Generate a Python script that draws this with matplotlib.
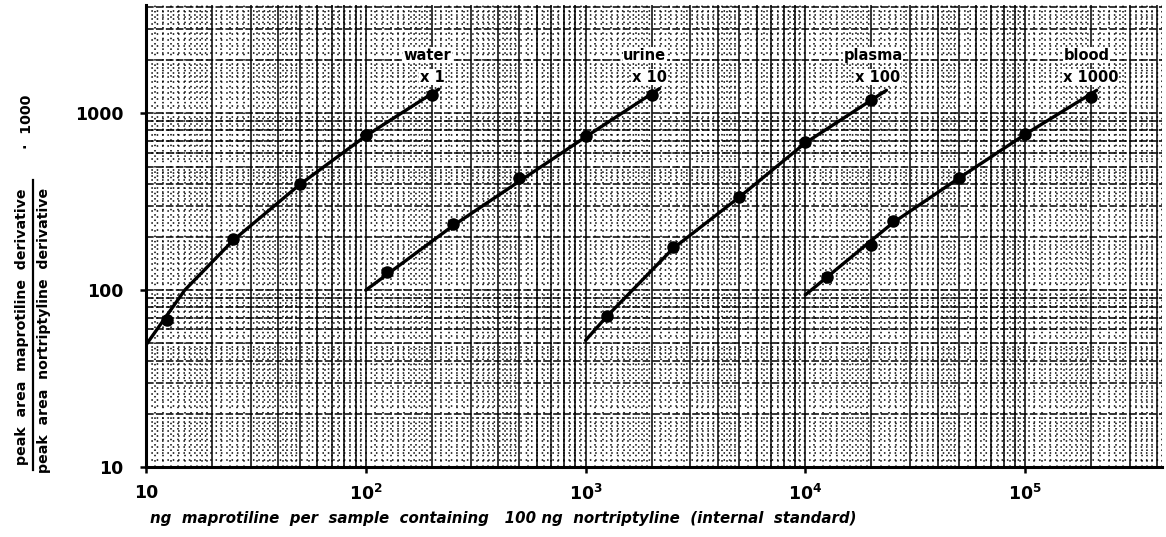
import matplotlib

matplotlib.use("Agg")
import matplotlib.pyplot as plt
import numpy as np
from matplotlib.lines import Line2D
from matplotlib.ticker import FixedLocator, NullLocator

# ng maprotiline per sample vs. peak area ratio * 1000
water_x = [12.5, 25, 50, 100, 200]
water_y = [68, 194, 397, 751, 1264]
urine_x = [125, 250, 500, 1000, 2000]
urine_y = [126, 236, 430, 741, 1264]
plasma_x = [1250, 2500, 5000, 10000, 20000]
plasma_y = [71, 175, 335, 686, 1183]
blood_x = [12500, 20000, 25000, 50000, 100000, 200000]
blood_y = [118, 180, 245, 430, 760, 1230]

# calibration curves as drawn through the points
water_curve_x = [10, 15, 25, 50, 100, 215]
water_curve_y = [49, 100, 192, 395, 745, 1370]
urine_curve_x = [100, 250, 1000, 2170]
urine_curve_y = [100, 232, 735, 1380]
plasma_curve_x = [1000, 1250, 2500, 5000, 10000, 23400]
plasma_curve_y = [52, 71, 172, 335, 680, 1350]
blood_curve_x = [10000, 12500, 25000, 50000, 100000, 212000]
blood_curve_y = [94, 118, 240, 430, 760, 1350]

labels = ["water", "urine", "plasma", "blood"]
factors = ["x 1", "x 10", "x 100", "x 1000"]
label_x = [191, 1860, 20400, 190000]

W, H = 1166, 537
fig = plt.figure(figsize=(W / 100, H / 100), dpi=100)
ax = fig.add_axes([146 / W, 1 - 467 / H, (1162 - 146) / W, (467 - 5) / H])
ax.set_xscale("log")
ax.set_yscale("log")
ax.set_xlim(10, 4.2e5)
ax.set_ylim(10, 4100)

# log graph paper
solid_subs = np.arange(1, 10)
dot_subs = np.r_[np.arange(1.1, 2.0, 0.1), [2.2, 2.4, 2.6, 2.8, 3.2, 3.4, 3.6, 3.8, 4.2, 4.4, 4.6, 4.8],
                 np.arange(5.5, 10, 0.5)]
for dec in [10, 100, 1000, 10000, 100000]:
    ax.vlines(solid_subs * dec, 0, 1, transform=ax.get_xaxis_transform(),
              color="black", lw=1.1, zorder=1)
    ax.vlines(dot_subs * dec, 0, 1, transform=ax.get_xaxis_transform(),
              color="black", lw=1.1, linestyles=(0, (1, 2.5)), zorder=1)
for dec in [10, 100, 1000]:
    ax.hlines(solid_subs * dec, 0, 1, transform=ax.get_yaxis_transform(),
              color="black", lw=1.1, linestyles=(0, (5, 1.5)), zorder=1)
    ax.hlines(dot_subs * dec, 0, 1, transform=ax.get_yaxis_transform(),
              color="black", lw=1.1, linestyles=(0, (1, 2.5)), zorder=1)

curves = [(water_curve_x, water_curve_y), (urine_curve_x, urine_curve_y),
          (plasma_curve_x, plasma_curve_y), (blood_curve_x, blood_curve_y)]
points = [(water_x, water_y), (urine_x, urine_y), (plasma_x, plasma_y), (blood_x, blood_y)]
for (cx, cy), (px, py) in zip(curves, points):
    ax.plot(cx, cy, color="black", lw=2.4, solid_capstyle="round", zorder=3)
    ax.plot(px, py, "o", color="black", ms=8, zorder=4)

for name, fac, lx in zip(labels, factors, label_x):
    ax.text(lx, 2130, name, ha="center", va="center", fontsize=10.5, fontweight="bold",
            zorder=5, bbox=dict(facecolor="white", edgecolor="none", pad=0.3))
    ax.text(lx * 1.05, 1600, fac, ha="center", va="center", fontsize=10.5, fontweight="bold",
            zorder=5, bbox=dict(facecolor="white", edgecolor="none", pad=0.3))

for side in ["top", "right"]:
    ax.spines[side].set_visible(False)
for side in ["left", "bottom"]:
    ax.spines[side].set_linewidth(2.2)

ax.xaxis.set_major_locator(FixedLocator([10, 1e2, 1e3, 1e4, 1e5]))
ax.set_xticklabels(["10", r"$\mathbf{10^{2}}$", r"$\mathbf{10^{3}}$",
                    r"$\mathbf{10^{4}}$", r"$\mathbf{10^{5}}$"])
ax.yaxis.set_major_locator(FixedLocator([10, 100, 1000]))
ax.set_yticklabels(["10", "100", "1000"])
ax.xaxis.set_minor_locator(NullLocator())
ax.yaxis.set_minor_locator(NullLocator())
ax.tick_params(axis="both", which="major", direction="out", length=4, width=1.8,
               labelsize=12.5)
ax.tick_params(axis="y", pad=12)
ax.tick_params(axis="x", pad=8)
for lab in ax.get_xticklabels() + ax.get_yticklabels():
    lab.set_fontweight("bold")

fig.text(150 / W, 1 - 519 / H,
         "ng  maprotiline  per  sample  containing   100 ng  nortriptyline  (internal  standard)",
         ha="left", va="center", fontsize=10.8, fontweight="bold", style="italic")

# y axis label as a fraction
fig.text(22 / W, 1 - 327 / H, "peak  area  maprotiline  derivative", rotation=90,
         ha="center", va="center", fontsize=10.2, fontweight="bold")
fig.text(44 / W, 1 - 330 / H, "peak  area  nortriptyline  derivative", rotation=90,
         ha="center", va="center", fontsize=10.2, fontweight="bold")
fig.add_artist(Line2D([33 / W, 33 / W], [1 - 470 / H, 1 - 180 / H], color="black", lw=1.6))
fig.text(27 / W, 1 - 122 / H, "\u00b7  1000", rotation=90,
         ha="center", va="center", fontsize=10.2, fontweight="bold")

fig.savefig("out.png", dpi=100, facecolor="white")
